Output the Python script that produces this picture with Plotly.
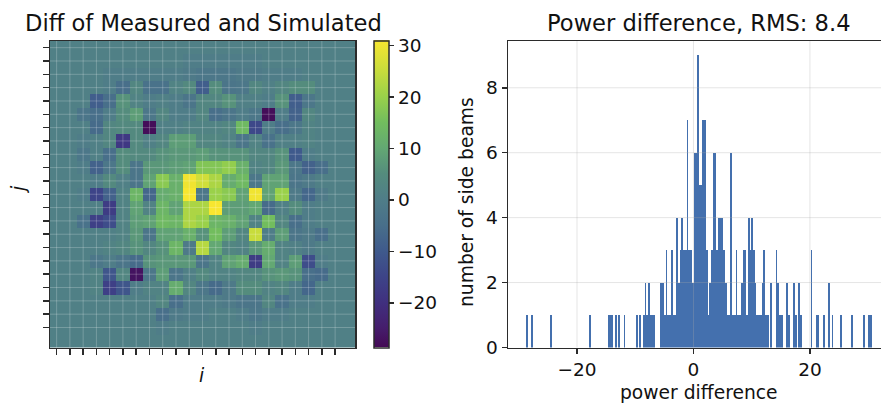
import plotly.graph_objects as go

W, H = 881, 406
H_EFF = 396  # vertical pixels the page actually maps paper fractions onto

diff_matrix = [
 [1,1,1,1,1,1,1,1,1,1,1,1,1,1,1,1,1,1,1,1,1,1,1],
 [1,1,1,1,1,1,1,1,1,1,0,0,0,0,0,0,1,1,1,1,1,1,1],
 [1,1,1,1,0,0,0,0,0,0,-1,-2,-2,-2,-1,-1,0,0,0,1,1,1,1],
 [1,1,1,1,0,-5,3,-4,-4,2,4,-9,5,-3,-2,3,1,3,5,5,1,1,1],
 [1,1,1,-9,-5,6,2,0,1,0,-3,3,3,6,1,1,0,6,-9,-2,1,1,1],
 [1,1,-3,-5,0,5,8,-2,3,0,0,3,-5,-3,0,-2,-28,0,-8,3,1,1,1],
 [1,1,1,-6,3,4,4,-28,1,1,2,2,2,3,14,-14,0,-5,-2,2,1,1,1],
 [1,1,0,1,3,-18,4,1,3,8,8,3,3,2,-3,2,-4,1,1,2,1,1,1],
 [1,1,-2,1,-5,5,4,4,6,7,7,8,6,6,6,3,3,6,-10,0,1,1,1],
 [1,1,0,-8,-2,5,-3,7,7,8,9,17,17,19,12,2,3,7,-2,-8,-5,1,1],
 [1,1,1,0,4,1,-3,9,18,12,30,26,22,11,14,-2,9,9,-3,-1,1,1,1],
 [1,1,0,-15,-8,2,13,-7,11,12,31,-2,20,18,9,30,9,20,-1,-7,-1,1,1],
 [1,1,1,1,-17,2,9,2,13,9,22,22,31,8,8,10,-6,1,5,0,1,1,1],
 [1,1,-4,-16,-13,2,8,9,14,13,22,20,13,12,9,2,15,3,-5,0,1,1,1],
 [1,1,1,1,1,2,7,-3,9,9,12,6,15,8,3,25,0,8,-3,-1,-5,1,1],
 [1,1,1,1,2,3,6,3,6,13,-1,23,10,3,2,7,11,2,1,-1,1,1,1],
 [1,1,1,-2,0,-3,-6,6,7,7,7,-3,2,9,11,-17,10,2,8,-13,0,1,1],
 [1,1,1,2,-11,3,-27,-2,8,-3,1,4,2,2,3,3,6,7,6,-5,-6,1,1],
 [1,1,1,2,-16,-11,0,2,2,11,3,-2,-6,-1,5,5,2,3,0,-7,1,1,1],
 [1,1,1,1,1,1,1,1,3,-5,0,0,0,-1,-3,-3,3,-4,0,0,1,1,1],
 [1,1,1,1,1,1,1,1,-5,-1,0,0,1,1,0,-2,0,0,1,1,1,1,1],
 [1,1,1,1,1,1,1,1,0,1,1,1,1,1,1,0,1,1,1,1,1,1,1],
 [1,1,1,1,1,1,1,1,1,1,1,1,1,1,1,1,1,1,1,1,1,1,1],
]
cell_ticks = [0,1,2,3,4,5,6,7,8,9,10,11,12,13,14,15,16,17,18,19,20,21]
cbar_ticks = [-20,-10,0,10,20,30]
z_low, z_high = -28.7, 31
color_values = [-28.7,-25,-20,-15,-10,-5,0,5,10,15,20,25,31]
color_hexes = ["#440a55","#451d6c","#40307f","#3d4488","#3f5a8c","#486f8a","#4f7d88",
               "#548c7d","#63a873","#72bd5e","#9ad14a","#c8dc3c","#f8e62f"]

hist_counts = [
 0,1,0,0,1,0,0,0,0,0,
 0,0,0,0,0,1,0,0,0,0,
 0,0,0,0,0,0,0,0,0,0,
 0,0,0,0,0,0,0,1,0,0,
 0,0,0,0,0,0,0,0,1,1,
 1,0,1,0,1,0,0,1,0,0,
 0,0,0,0,1,0,1,0,1,2,
 1,2,1,1,1,0,0,0,2,2,
 1,3,1,1,3,1,1,4,2,3,
 4,3,3,7,3,3,2,6,6,9,
 5,5,7,7,3,1,2,3,6,6,
 3,4,4,4,3,2,1,1,6,1,
 1,3,1,1,2,3,3,1,4,3,
 4,3,2,1,1,1,2,3,1,1,
 0,2,0,0,3,2,1,1,0,0,
 2,1,0,0,2,1,0,2,1,0,
 0,0,0,0,3,0,0,1,1,0,
 0,1,0,0,2,0,1,0,0,0,
 0,1,0,0,0,0,0,1,0,0,
 0,0,0,0,1,0,0,1,1,0,
]
hist_start = -28.93
hist_bin = 0.3
hist_xticks = [-20, 0, 20]
hist_yticks = [0, 2, 4, 6, 8]

FONT = "DejaVu Sans"
INK = "#111111"
SPINE = "#2b2b2b"
colorscale = [[(v - z_low) / (z_high - z_low), c] for v, c in zip(color_values, color_hexes)]

fig = go.Figure()
fig.add_trace(go.Heatmap(
    z=diff_matrix, colorscale=colorscale, zmin=z_low, zmax=z_high,
    xaxis="x", yaxis="y",
    colorbar=dict(
        x=374/W, xanchor="left", xref="paper", thickness=15, thicknessmode="pixels",
        y=1-347.5/H_EFF, yanchor="bottom", yref="paper", len=306.5/H_EFF, lenmode="fraction",
        tickvals=cbar_ticks, ticks="outside", ticklen=5, tickwidth=1.5, tickcolor=SPINE,
        outlinecolor=SPINE, outlinewidth=1.5,
        tickfont=dict(family=FONT, size=18.5, color=INK), xpad=0, ypad=0),
))
fig.add_trace(go.Bar(
    x0=hist_start, dx=hist_bin, y=hist_counts, width=hist_bin,
    marker=dict(color="#4470ae", line=dict(width=0)),
    xaxis="x2", yaxis="y2"))

shapes = []
grid_white = dict(color="rgba(255,255,255,0.22)", width=1)
for t in cell_ticks:
    shapes.append(dict(type="line", xref="x", yref="y domain", x0=t, x1=t, y0=0, y1=1, line=grid_white, layer="above"))
    shapes.append(dict(type="line", xref="x domain", yref="y", x0=0, x1=1, y0=t, y1=t, line=grid_white, layer="above"))
grid_grey = dict(color="rgba(170,170,170,0.3)", width=1)
for t in hist_xticks:
    shapes.append(dict(type="line", xref="x2", yref="y2 domain", x0=t, x1=t, y0=0, y1=1, line=grid_grey, layer="above"))
for t in hist_yticks[1:]:
    shapes.append(dict(type="line", xref="x2 domain", yref="y2", x0=0, x1=1, y0=t, y1=t, line=grid_grey, layer="above"))

y_dom = [1-347.5/H_EFF, 1-41/H_EFF]
def title(text, x, y, size=22.6, **kw):
    return dict(text=text, x=x/W, y=1-y/H_EFF, xref="paper", yref="paper", showarrow=False,
                xanchor="center", yanchor="middle", font=dict(family=FONT, size=size, color=INK), **kw)

fig.update_layout(
    autosize=False, width=W, height=H, margin=dict(l=0, r=0, t=0, b=0, pad=0),
    paper_bgcolor="white", plot_bgcolor="white", showlegend=False, bargap=0,
    font=dict(family=FONT, size=18, color=INK),
    shapes=shapes,
    annotations=[
        title("Diff of Measured and Simulated", 203, 23),
        title("Power difference, RMS: 8.4", 699, 23),
        title("<i>i</i>", 202, 375, size=18.7),
        title("<i>j</i>", 18, 190, size=18.7, textangle=-90),
        title("number of side beams", 467, 202, size=18.7, textangle=-90),
        title("power difference", 699, 392, size=18.7),
    ],
    xaxis=dict(domain=[50/W, 355/W], range=[-0.5, 22.5], tickvals=cell_ticks, showticklabels=False,
               ticks="outside", ticklen=6, tickwidth=1.5, tickcolor=SPINE, showgrid=False, zeroline=False,
               showline=True, mirror=True, linecolor=SPINE, linewidth=1.5),
    yaxis=dict(domain=y_dom, range=[22.5, -0.5], tickvals=cell_ticks, showticklabels=False,
               ticks="outside", ticklen=6, tickwidth=1.5, tickcolor=SPINE, showgrid=False, zeroline=False,
               showline=True, mirror=True, linecolor=SPINE, linewidth=1.5),
    xaxis2=dict(domain=[508/W, 1], range=[-31.85, 32.2], tickvals=hist_xticks, anchor="y2",
                ticks="outside", ticklen=5, tickwidth=1.5, tickcolor=SPINE, showgrid=False, zeroline=False,
                showline=True, mirror=True, linecolor=SPINE, linewidth=1.5,
                tickfont=dict(family=FONT, size=18.5, color=INK)),
    yaxis2=dict(domain=y_dom, range=[0, 9.44], tickvals=hist_yticks, anchor="x2",
                ticks="outside", ticklen=5, tickwidth=1.5, tickcolor=SPINE, showgrid=False, zeroline=False,
                showline=True, linecolor=SPINE, linewidth=1.5,
                tickfont=dict(family=FONT, size=18.5, color=INK)),
)
post = ("var s=document.createElement('style');"
        "s.textContent='html,body{margin:0!important;padding:0!important;overflow:hidden!important}"
        ".main-svg{display:block}';document.head.appendChild(s);")
fig.write_html("out.html", config={"staticPlot": True, "responsive": False},
               default_width="881px", default_height="406px", post_script=post)
